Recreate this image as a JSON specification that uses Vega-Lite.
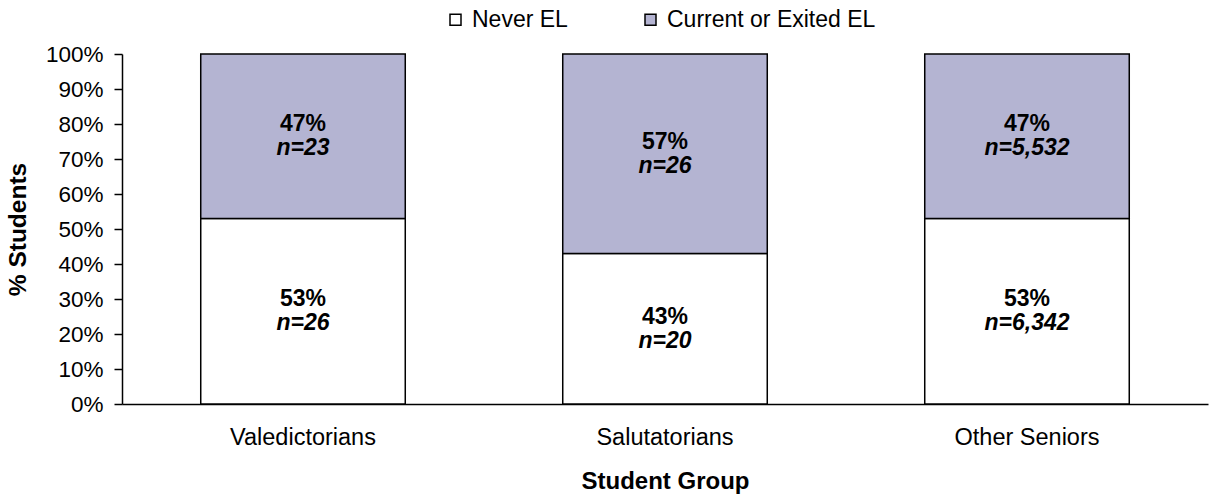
{
  "$schema": "https://vega.github.io/schema/vega-lite/v6.json",
  "autosize": "none",
  "width": 1086,
  "height": 350,
  "padding": {"left": 122, "top": 54, "right": 11, "bottom": 90},
  "background": "white",
  "config": {
    "view": {"stroke": null},
    "font": "Liberation Sans",
    "axis": {"labelFont": "Liberation Sans", "titleFont": "Liberation Sans", "labelColor": "black", "titleColor": "black", "domainColor": "black", "tickColor": "black"}
  },
  "data": {
    "values": [
      {"group": "Valedictorians", "status": "Never EL", "pct": 53, "n": "26"},
      {"group": "Valedictorians", "status": "Current or Exited EL", "pct": 47, "n": "23"},
      {"group": "Salutatorians", "status": "Never EL", "pct": 43, "n": "20"},
      {"group": "Salutatorians", "status": "Current or Exited EL", "pct": 57, "n": "26"},
      {"group": "Other Seniors", "status": "Never EL", "pct": 53, "n": "6,342"},
      {"group": "Other Seniors", "status": "Current or Exited EL", "pct": 47, "n": "5,532"}
    ]
  },
  "transform": [
    {"calculate": "datum.status === 'Never EL' ? 0 : 1", "as": "order"},
    {"stack": "pct", "groupby": ["group"], "sort": [{"field": "order"}], "as": ["lo", "hi"]},
    {"calculate": "(datum.lo + datum.hi) / 2", "as": "mid"},
    {"calculate": "datum.pct + '%'", "as": "pctLabel"},
    {"calculate": "'n=' + datum.n", "as": "nLabel"}
  ],
  "resolve": {"axis": {"y": "independent"}},
  "encoding": {
    "x": {
      "field": "group",
      "type": "nominal",
      "sort": ["Valedictorians", "Salutatorians", "Other Seniors"],
      "scale": {"paddingInner": 0.435, "paddingOuter": 0.2175},
      "axis": {
        "title": "Student Group",
        "titleFontSize": 24,
        "titleFontWeight": "bold",
        "titlePadding": 21,
        "labelFontSize": 23.5,
        "labelAngle": 0,
        "labelPadding": 21,
        "ticks": false,
        "domainWidth": 1.5
      }
    }
  },
  "layer": [
    {
      "mark": {"type": "bar", "stroke": "black", "strokeWidth": 1.5},
      "encoding": {
        "y": {
          "field": "lo",
          "type": "quantitative",
          "scale": {"domain": [0, 100]},
          "axis": {
            "title": "% Students",
            "titleFontSize": 24.5,
            "titleFontWeight": "bold",
            "titlePadding": 15,
            "values": [0, 10, 20, 30, 40, 50, 60, 70, 80, 90, 100],
            "labelExpr": "datum.value + '%'",
            "labelOverlap": false,
            "labelFontSize": 22.5,
            "labelPadding": 11,
            "tickSize": 8,
            "tickWidth": 1.5,
            "domainWidth": 1.5,
            "grid": false
          }
        },
        "y2": {"field": "hi"},
        "fill": {
          "field": "status",
          "type": "nominal",
          "scale": {"domain": ["Never EL", "Current or Exited EL"], "range": ["#FFFFFF", "#B4B4D2"]},
          "legend": {
            "title": null,
            "orient": "none",
            "legendX": 322,
            "legendY": -46,
            "direction": "horizontal",
            "columns": 2,
            "columnPadding": 71,
            "symbolType": "square",
            "symbolSize": 121,
            "symbolStrokeColor": "black",
            "symbolStrokeWidth": 1.5,
            "labelFontSize": 23,
            "labelOffset": 5,
            "labelLimit": 400,
            "labelColor": "black",
            "labelFont": "Liberation Sans"
          }
        }
      }
    },
    {
      "mark": {"type": "text", "fontSize": 23, "fontWeight": "bold", "color": "black", "dy": -12},
      "encoding": {
        "y": {"field": "mid", "type": "quantitative", "axis": null},
        "text": {"field": "pctLabel"}
      }
    },
    {
      "mark": {"type": "text", "fontSize": 23, "fontWeight": "bold", "fontStyle": "italic", "color": "black", "dy": 12},
      "encoding": {
        "y": {"field": "mid", "type": "quantitative", "axis": null},
        "text": {"field": "nLabel"}
      }
    }
  ]
}
